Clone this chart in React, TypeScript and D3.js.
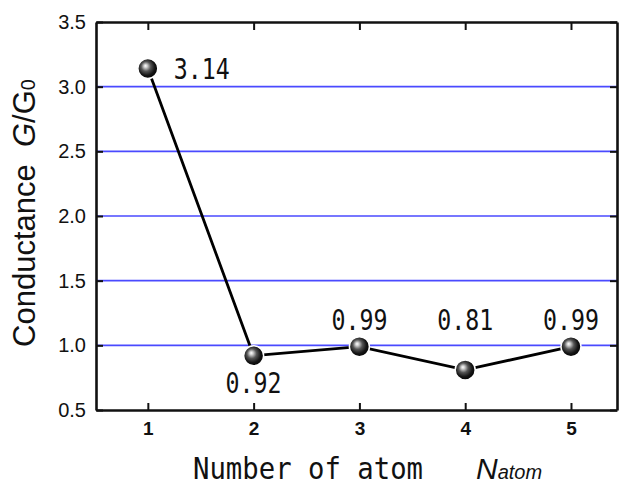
import { useEffect, useRef } from "react";
import * as d3 from "d3";

// data
const atoms = [1, 2, 3, 4, 5];
const conductance = [3.14, 0.92, 0.99, 0.81, 0.99];
const valueLabels = ["3.14", "0.92", "0.99", "0.81", "0.99"];
const yTickValues = [0.5, 1.0, 1.5, 2.0, 2.5, 3.0, 3.5];
const gridValues = [1.0, 1.5, 2.0, 2.5, 3.0];

const W = 619;
const H = 485;
const MONO = "'DejaVu Sans Mono', 'Liberation Mono', monospace";
const SANS = "'Liberation Sans', Arial, sans-serif";

function ConductanceChart() {
  const ref = useRef<SVGSVGElement>(null);

  useEffect(() => {
    const svg = d3.select(ref.current);
    svg.selectAll("*").remove();

    const left = 96;
    const right = 617;
    const top = 22;
    const bottom = 410;

    const x = d3.scaleLinear().domain([0.51, 5.435]).range([left, right]);
    const y = d3.scaleLinear().domain([0.5, 3.5]).range([bottom, top]);

    // sphere gradient
    const defs = svg.append("defs");
    const grad = defs
      .append("radialGradient")
      .attr("id", "ball")
      .attr("cx", "45%")
      .attr("cy", "45%")
      .attr("r", "60%")
      .attr("fx", "38%")
      .attr("fy", "36%");
    grad.append("stop").attr("offset", "0%").attr("stop-color", "#ffffff");
    grad.append("stop").attr("offset", "14%").attr("stop-color", "#d0d0d0");
    grad.append("stop").attr("offset", "40%").attr("stop-color", "#555555");
    grad.append("stop").attr("offset", "70%").attr("stop-color", "#151515");
    grad.append("stop").attr("offset", "100%").attr("stop-color", "#000000");

    // blue grid lines
    svg
      .append("g")
      .selectAll("line")
      .data(gridValues)
      .join("line")
      .attr("x1", left)
      .attr("x2", right)
      .attr("y1", (d) => y(d))
      .attr("y2", (d) => y(d))
      .attr("stroke", "#4a4aff")
      .attr("stroke-width", 1.6);

    // axes (ticks pointing inward)
    const styleAxis = (g: any) => {
      g.select(".domain").attr("stroke", "#111").attr("stroke-width", 2.6);
      g.selectAll(".tick line").attr("stroke", "#111").attr("stroke-width", 2);
    };

    svg
      .append("g")
      .attr("transform", `translate(0,${bottom})`)
      .call(
        d3.axisBottom(x).tickValues(atoms).tickSizeInner(-7).tickSizeOuter(0).tickPadding(12)
          .tickFormat(d3.format("d"))
      )
      .call(styleAxis)
      .call((g: any) =>
        g.selectAll(".tick text")
          .attr("font-family", SANS)
          .attr("font-weight", "bold")
          .attr("font-size", 19)
          .attr("fill", "#111")
      );

    svg
      .append("g")
      .attr("transform", `translate(0,${top})`)
      .call(d3.axisTop(x).tickValues(atoms).tickSizeInner(-8).tickSizeOuter(0).tickFormat(() => ""))
      .call(styleAxis);

    svg
      .append("g")
      .attr("transform", `translate(${left},0)`)
      .call(
        d3.axisLeft(y).tickValues(yTickValues).tickSizeInner(-7).tickSizeOuter(0).tickPadding(10)
          .tickFormat(d3.format(".1f"))
      )
      .call(styleAxis)
      .call((g: any) =>
        g.selectAll(".tick text")
          .attr("font-family", SANS)
          .attr("font-size", 20)
          .attr("fill", "#111")
      );

    svg
      .append("g")
      .attr("transform", `translate(${right},0)`)
      .call(d3.axisRight(y).tickValues(yTickValues).tickSizeInner(-7).tickSizeOuter(0).tickFormat(() => ""))
      .call(styleAxis);

    // connecting line
    const pts = atoms.map((a, i) => [x(a), y(conductance[i])] as [number, number]);
    svg
      .append("path")
      .attr("d", d3.line()(pts))
      .attr("fill", "none")
      .attr("stroke", "#000")
      .attr("stroke-width", 2.8);

    // spheres
    svg
      .append("g")
      .selectAll("circle")
      .data(pts)
      .join("circle")
      .attr("cx", (d) => d[0])
      .attr("cy", (d) => d[1])
      .attr("r", 10)
      .attr("fill", "url(#ball)")
      .attr("stroke", "#fff")
      .attr("stroke-width", 1.5);

    // value labels
    const lbl = svg.append("g");
    pts.forEach((p, i) => {
      let tx = p[0];
      let ty = y(0.5) - 80;
      let anchor = "middle";
      if (i === 0) {
        tx = p[0] + 26;
        ty = p[1] + 10;
        anchor = "start";
      } else if (i === 1) {
        ty = p[1] + 37;
      }
      lbl
        .append("text")
        .attr("x", tx)
        .attr("y", ty)
        .attr("text-anchor", anchor)
        .attr("font-family", MONO)
        .attr("font-size", 29)
        .attr("textLength", 56)
        .attr("lengthAdjust", "spacingAndGlyphs")
        .attr("fill", "#111")
        .text(valueLabels[i]);
    });

    // x axis title
    const xt = svg.append("g");
    xt.append("text")
      .attr("x", 193)
      .attr("y", 479)
      .attr("font-family", MONO)
      .attr("font-size", 30)
      .attr("textLength", 230)
      .attr("lengthAdjust", "spacingAndGlyphs")
      .attr("fill", "#111")
      .text("Number of atom");
    const nt = xt
      .append("text")
      .attr("x", 476)
      .attr("y", 479)
      .attr("font-family", SANS)
      .attr("font-style", "italic")
      .attr("font-size", 30)
      .attr("fill", "#111");
    nt.append("tspan").text("N");
    nt.append("tspan").attr("font-size", 20).text("atom");

    // y axis title
    const yt = svg
      .append("text")
      .attr("transform", "translate(35,213) rotate(-90)")
      .attr("text-anchor", "middle")
      .attr("font-family", SANS)
      .attr("font-size", 31)
      .attr("fill", "#111");
    yt.append("tspan").text("Conductance\u00a0\u00a0");
    yt.append("tspan").attr("font-style", "italic").text("G");
    yt.append("tspan").text("/G");
    yt.append("tspan").attr("font-size", 20).text("0");
  }, []);

  return (
    <svg
      ref={ref}
      width={W}
      height={H}
      style={{ position: "absolute", left: 0, top: 0, background: "#fff" }}
    />
  );
}

export default function App() {
  return <ConductanceChart />;
}
